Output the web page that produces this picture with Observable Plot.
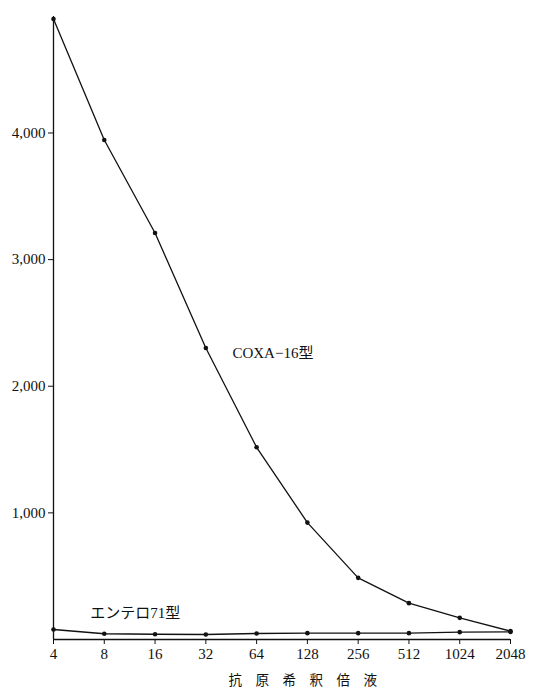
<!DOCTYPE html>
<html>
<head>
<meta charset="utf-8">
<script src="https://cdn.jsdelivr.net/npm/d3@7"></script>
<script src="https://cdn.jsdelivr.net/npm/@observablehq/plot@0.6"></script>
<style>
  html, body { margin: 0; padding: 0; background: #fff; }
  svg { display: block; }
</style>
</head>
<body>
<div id="chart"></div>
<script>
const dilutions = [4, 8, 16, 32, 64, 128, 256, 512, 1024, 2048];
const coxa16 = [4900, 3945, 3210, 2302, 1518, 923, 487, 287, 171, 66];
const entero71 = [79, 45, 42, 40, 47, 50, 50, 50, 58, 60];
const yTicks = [1000, 2000, 3000, 4000];
const seriesLabels = [
  {name: "COXA−16型", x: 46, y: 2265},
  {name: "エンテロ71型", x: 6.6, y: 205}
];
const xAxisTitle = "抗　原　希　釈　倍　液";

const coxaData = dilutions.map((d, i) => ({d, v: coxa16[i]}));
const enteroData = dilutions.map((d, i) => ({d, v: entero71[i]}));

const font = "'Liberation Serif', 'Noto Sans CJK JP', serif";

const chart = Plot.plot({
  width: 535,
  height: 689,
  marginLeft: 53,
  marginRight: 25,
  marginTop: 16,
  marginBottom: 50,
  style: {fontFamily: font, fontSize: "15px", color: "#111", background: "#fff"},
  x: {type: "log", base: 2, domain: [4, 2048]},
  y: {domain: [0, 4920]},
  marks: [
    Plot.axisX({ticks: dilutions, tickFormat: d => String(d), label: null, tickSize: 5, tickPadding: 4, fontSize: 15, fontFamily: font, fill: "#111", stroke: "#111"}),
    Plot.axisY({ticks: yTicks, tickFormat: d3.format(","), label: null, tickSize: 5, tickPadding: 3, fontSize: 15, fontFamily: font, fill: "#111", stroke: "#111"}),
    Plot.ruleX([4], {stroke: "#111", strokeWidth: 1.3}),
    Plot.ruleY([0], {stroke: "#111", strokeWidth: 1.3}),
    Plot.line(enteroData, {x: "d", y: "v", stroke: "#111", strokeWidth: 1.4}),
    Plot.dot(enteroData, {x: "d", y: "v", r: 2.3, fill: "#111"}),
    Plot.line(coxaData, {x: "d", y: "v", stroke: "#111", strokeWidth: 1.3}),
    Plot.dot(coxaData, {x: "d", y: "v", r: 2.3, fill: "#111"}),
    Plot.text(seriesLabels, {x: "x", y: "y", text: "name", textAnchor: "start", fontSize: 15, fill: "#111"}),
    Plot.text([xAxisTitle], {x: [120], frameAnchor: "bottom", dy: 45, text: d => d, fontSize: 13.5, fill: "#111", fontFamily: "'Noto Sans CJK JP', sans-serif"})
  ]
});
document.getElementById("chart").appendChild(chart);
</script>
</body>
</html>
